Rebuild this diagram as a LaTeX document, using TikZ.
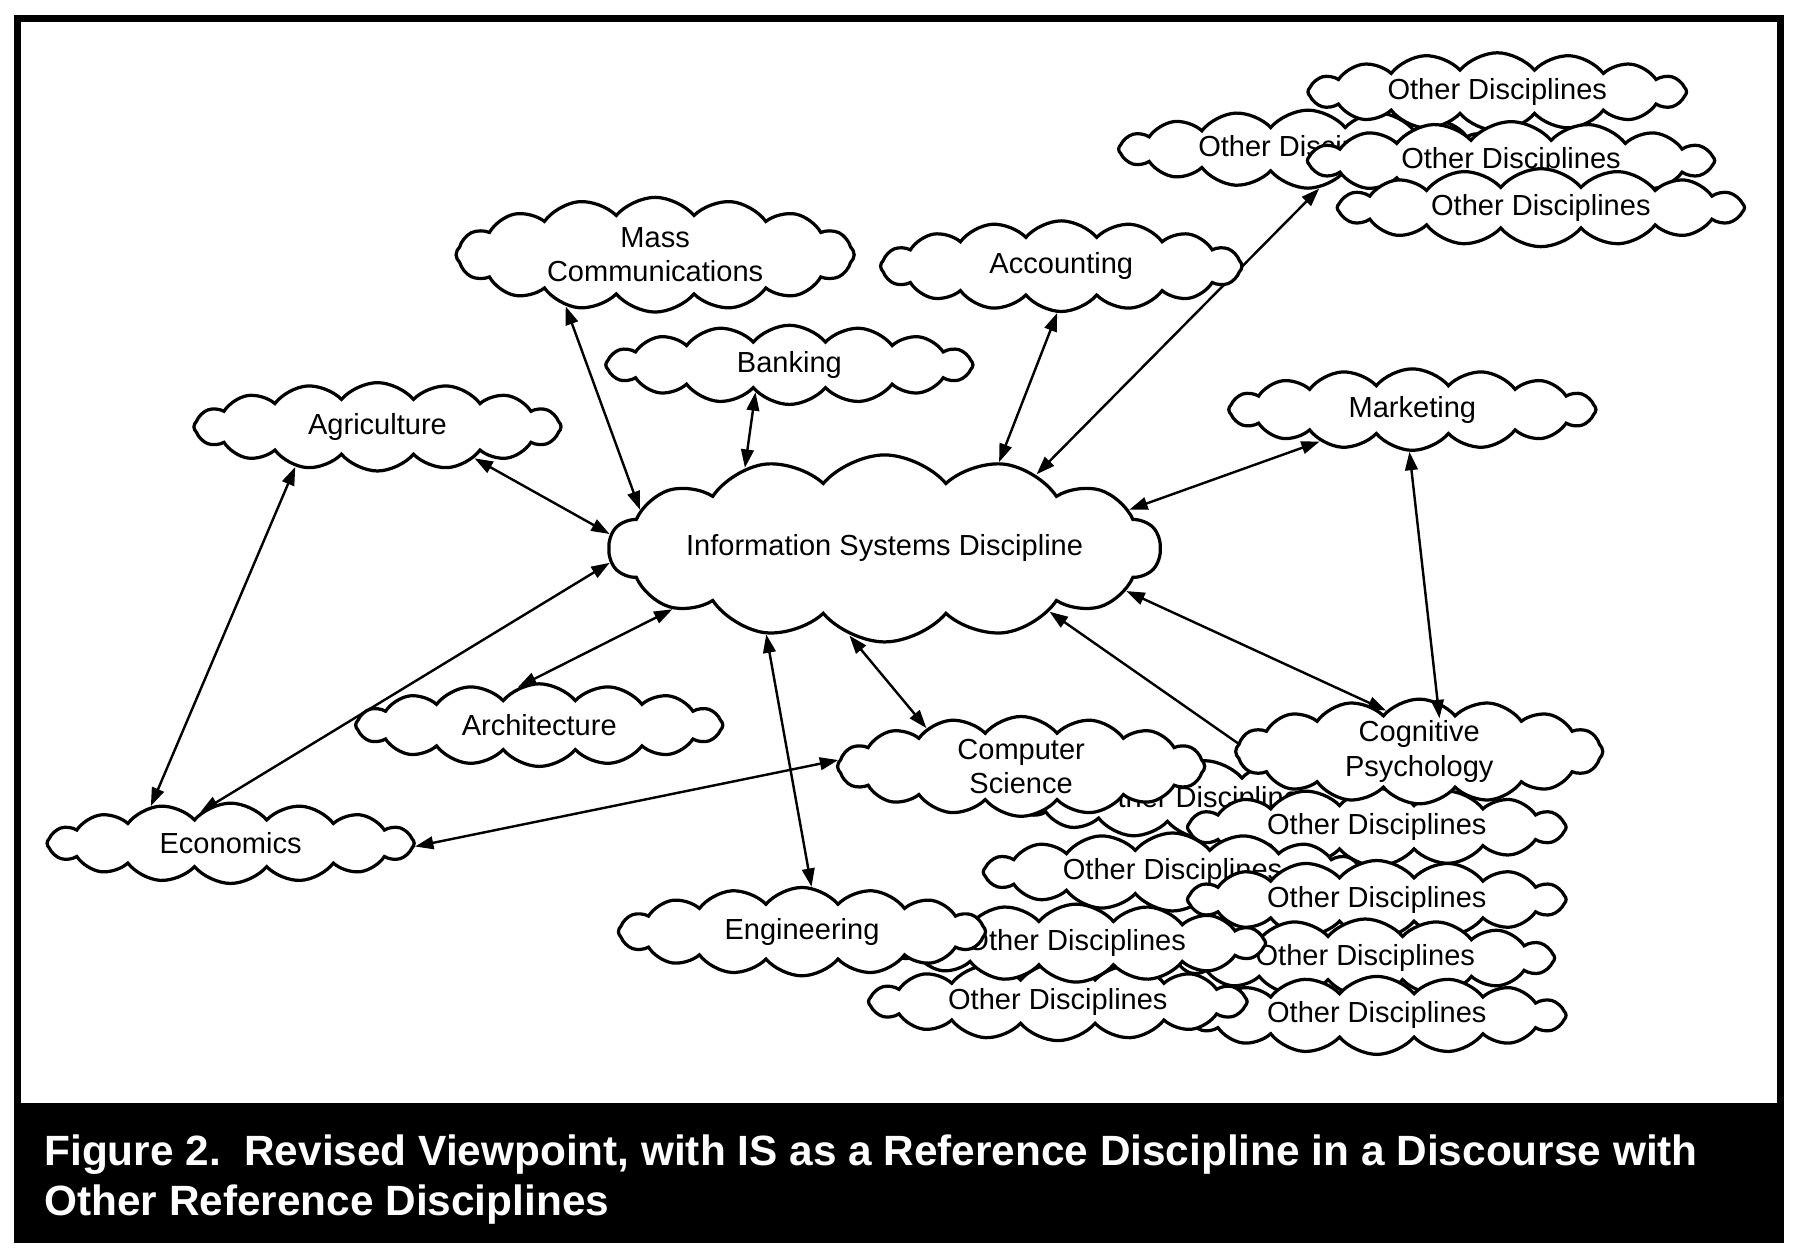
\documentclass[tikz,border=0pt]{standalone}
\usepackage{fontspec}
\setmainfont{Liberation Sans}
\usetikzlibrary{shapes.symbols,arrows.meta,backgrounds}

\begin{document}
\begin{tikzpicture}[>={Triangle[length=1.6mm,width=1.1mm]},
  disc/.style={cloud,cloud puffs=16,cloud puff arc=100,cloud ignores aspect,draw,fill=white,line width=0.8pt,
    inner sep=0pt,minimum width=3.2cm,minimum height=0.75cm,align=center,font=\fontsize{7.2}{8.6}\selectfont},
  other/.style={disc,minimum width=3.3cm,minimum height=0.68cm},
  link/.style={<->,line width=0.6pt},
  caption/.style={text=white,inner sep=0pt,font=\fontsize{10.5}{12.6}\selectfont\bfseries}]
  \useasboundingbox (0,0) rectangle (15.68,10.96);
  \node[other] (top2) at (11.40,9.66) {Other Disciplines};
  \node[other] (top1) at (13.05,10.16) {Other Disciplines};
  \node[other,minimum width=3.55cm] (top3) at (13.17,9.56) {Other Disciplines};
  \node[other,minimum width=3.55cm] (top4) at (13.43,9.15) {Other Disciplines};
  \node[other] (bot1) at (10.50,3.99) {Other Disciplines};
  \node[other] (bot2) at (12.00,3.75) {Other Disciplines};
  \node[other] (bot3) at (10.22,3.36) {Other Disciplines};
  \node[other] (bot4) at (12.00,3.12) {Other Disciplines};
  \node[other] (bot6) at (11.90,2.61) {Other Disciplines};
  \node[other] (bot8) at (12.00,2.11) {Other Disciplines};
  \node[other] (bot7) at (9.22,2.23) {Other Disciplines};
  \node[other] (bot5) at (9.38,2.74) {Other Disciplines};
  \node[disc,minimum width=3.47cm,minimum height=1.0cm] (mass) at (5.71,8.74) {Mass\\Communications};
  \node[disc,minimum height=0.69cm] (bank) at (6.88,7.78) {Banking};
  \node[disc,minimum width=3.15cm,minimum height=0.79cm] (acct) at (9.25,8.64) {Accounting};
  \node[disc,minimum height=0.77cm] (agri) at (3.29,7.24) {Agriculture};
  \node[disc,cloud puffs=14,minimum width=4.63cm,minimum height=1.63cm] (is) at (7.71,6.18) {Information Systems Discipline};
  \node[disc,minimum height=0.71cm] (mkt) at (12.31,7.39) {Marketing};
  \node[disc,minimum height=0.72cm] (arch) at (4.70,4.64) {Architecture};
  \node[disc,minimum height=0.70cm] (econ) at (2.01,3.61) {Economics};
  \node[disc,minimum height=0.87cm] (cs) at (8.90,4.28) {Computer\\Science};
  \node[disc,minimum height=0.90cm] (cog) at (12.37,4.41) {Cognitive\\Psychology};
  \node[disc,minimum height=0.77cm] (eng) at (6.99,2.84) {Engineering};
  \begin{scope}[on background layer]
    \draw[link] (mass.-150) -- (is.171);
    \draw[link] (bank.-141) -- (is.150);
    \draw[link] (acct.265) -- (is.37);
    \draw[link] (top2.-74) -- (is.26);
    \draw[link] (mkt.199) -- (is.9);
    \draw[link] (agri.-18) -- (is.177);
    \draw[link] (agri.206) -- (econ.155);
    \draw[link] (econ.134) -- (is.183);
    \draw[link] (arch.119) -- (is.196);
    \draw[link] (is.248) -- (cs.158);
    \draw[link] (is.216) -- (eng.78);
    \draw[link] (econ.-1) -- (cs.178);
    \draw[link] (is.-10) -- (cog.129);
    \draw[link] (is.-21) -- (bot1.31);
  \end{scope}
  \draw[link,shorten >=-1.5mm] (mkt.266) -- (cog.70);
  \fill (0.12,0.13) rectangle (15.545,1.35);
  \draw[line width=0.06cm] (0.15,0.16) rectangle (15.515,10.80);
  \node[caption,anchor=base west] (cap1) at (0.38,0.80) {Figure 2.\ \ Revised Viewpoint, with IS as a Reference Discipline in a Discourse with};
  \node[caption,anchor=base west] (cap2) at (0.38,0.37) {Other Reference Disciplines};
\end{tikzpicture}
\end{document}
